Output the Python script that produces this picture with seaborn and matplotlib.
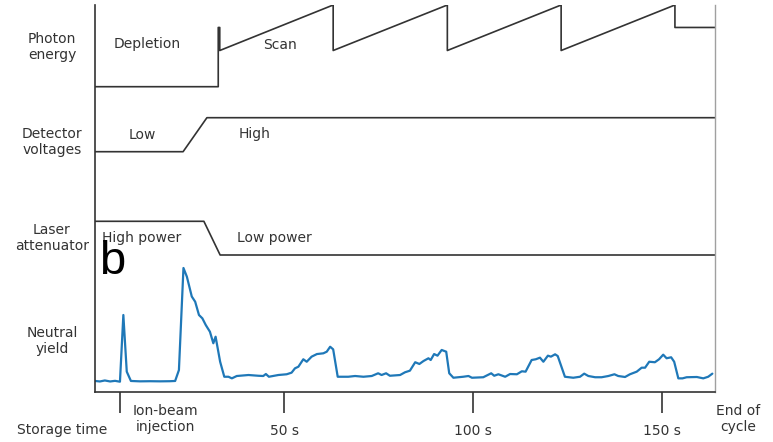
import numpy as np
import pandas as pd
import matplotlib
matplotlib.use("Agg")
import matplotlib.pyplot as plt
import seaborn as sns

# ---- timing of one storage cycle (seconds) ----
injection_t = 6.6
cycle_end_t = 164.0
tick_times = [injection_t, 50, 100, 150]
tick_labels = ["", "50 s", "100 s", "150 s"]

# Photon energy (relative): depletion level, reference spike, four scans, final level
photon_t = [0, 32.6, 32.6, 33.0, 33.0, 63.0, 63.0, 93.2, 93.2, 123.3, 123.3,
            153.4, 153.4, 164.0]
photon_e = [0, 0, 0.725, 0.725, 0.443, 1, 0.443, 1, 0.443, 1, 0.443, 1,
            0.725, 0.725]

# Detector voltages (0 = low, 1 = high)
detector_t = [0, 23.3, 29.6, 164.0]
detector_v = [0, 0, 1, 1]

# Laser attenuator (1 = high power, 0 = low power)
laser_t = [0, 28.8, 33.1, 164.0]
laser_p = [1, 1, 0, 0]

# Neutral yield (arbitrary units)
yield_t = [0.0, 1.3, 2.6, 4.0, 5.3, 6.6, 7.5, 8.4, 9.5, 11.9, 14.6, 17.2, 19.8,
           21.2, 22.2, 23.4, 24.3, 25.6, 26.5, 27.5, 28.4, 29.3, 30.4, 31.3,
           31.9, 33.1, 34.2, 35.3, 36.2, 37.5, 40.6, 43.2, 44.5, 45.2, 46.0,
           48.5, 50.7, 52.0, 52.9, 53.8, 55.1, 56.0, 57.3, 58.7, 60.4, 61.3,
           62.2, 63.0, 64.2, 67.0, 68.8, 71.0, 73.2, 74.9, 75.8, 77.0, 78.0,
           80.7, 82.0, 83.3, 84.7, 85.8, 86.9, 88.2, 88.8, 89.7, 90.6, 91.7,
           92.9, 93.7, 94.8, 97.4, 98.8, 99.7, 102.7, 104.8, 105.6, 106.7,
           108.5, 109.8, 111.6, 112.9, 113.9, 115.5, 116.6, 117.7, 118.6,
           119.8, 120.6, 121.7, 122.4, 124.3, 126.5, 128.3, 129.4, 130.5,
           132.3, 134.0, 135.8, 137.4, 138.4, 140.2, 141.5, 143.3, 144.6,
           145.5, 146.6, 148.1, 149.2, 150.3, 151.2, 152.4, 153.2, 154.3,
           155.4, 156.5, 159.2, 160.9, 162.2, 163.3]
yield_v = [0.089, 0.085, 0.093, 0.085, 0.090, 0.083, 0.621, 0.164, 0.089, 0.086,
           0.087, 0.086, 0.087, 0.089, 0.177, 1.000, 0.930, 0.770, 0.728, 0.621,
           0.594, 0.540, 0.486, 0.393, 0.446, 0.244, 0.123, 0.123, 0.110, 0.129,
           0.137, 0.131, 0.129, 0.145, 0.123, 0.137, 0.143, 0.156, 0.191, 0.204,
           0.264, 0.244, 0.285, 0.306, 0.312, 0.325, 0.365, 0.344, 0.123, 0.123,
           0.129, 0.123, 0.129, 0.151, 0.137, 0.151, 0.131, 0.137, 0.159, 0.172,
           0.240, 0.226, 0.250, 0.272, 0.258, 0.306, 0.293, 0.339, 0.325, 0.151,
           0.115, 0.123, 0.129, 0.115, 0.119, 0.151, 0.131, 0.143, 0.123, 0.145,
           0.143, 0.167, 0.164, 0.258, 0.264, 0.277, 0.244, 0.293, 0.285, 0.304,
           0.290, 0.123, 0.115, 0.123, 0.148, 0.129, 0.119, 0.119, 0.129, 0.143,
           0.129, 0.121, 0.143, 0.164, 0.196, 0.196, 0.244, 0.240, 0.264, 0.301,
           0.272, 0.280, 0.244, 0.110, 0.110, 0.119, 0.121, 0.110, 0.123, 0.148]

row_labels = ["Photon\nenergy", "Detector\nvoltages", "Laser\nattenuator",
              "Neutral\nyield"]

# ---- styling ----
sns.set_style("white")
plt.rcParams["font.family"] = ["DejaVu Sans"]
INK = "#333333"
BLUE = "#1f78b8"
W, H = 773, 442

# vertical placement of each lane (pixel-like units above the time axis)
PE_BASE, PE_SPAN = 305.3, 81.7
DET_BASE, DET_SPAN = 240.3, 34.0
LAS_BASE, LAS_SPAN = 137.0, 33.7
YIELD_SPAN = 124.0

fig = plt.figure(figsize=(W / 100, H / 100), dpi=100)
ax = fig.add_axes([95 / W, 50 / H, 620 / W, 387 / H])

pe = pd.DataFrame({"t": photon_t, "y": PE_BASE + np.array(photon_e) * PE_SPAN})
det = pd.DataFrame({"t": detector_t, "y": DET_BASE + np.array(detector_v) * DET_SPAN})
las = pd.DataFrame({"t": laser_t, "y": LAS_BASE + np.array(laser_p) * LAS_SPAN})
yl = pd.DataFrame({"t": yield_t, "y": np.array(yield_v) * YIELD_SPAN})

for df in (pe, det, las):
    sns.lineplot(data=df, x="t", y="y", ax=ax, estimator=None, sort=False,
                 color=INK, lw=1.2)
sns.lineplot(data=yl, x="t", y="y", ax=ax, estimator=None, sort=False,
             color=BLUE, lw=1.6)

ax.set_xlim(0, cycle_end_t)
ax.set_ylim(0, 387)
ax.set_xlabel("")
ax.set_ylabel("")
ax.set_yticks([])
ax.set_xticks(tick_times)
ax.set_xticklabels(tick_labels, fontsize=10, color=INK)
ax.tick_params(axis="x", direction="out", length=15, width=1.2, color=INK,
               pad=8, bottom=True)

for side in ("left", "bottom"):
    ax.spines[side].set_color(INK)
    ax.spines[side].set_linewidth(1.2)
ax.spines["right"].set_color("#a0a0a0")
ax.spines["right"].set_linewidth(1.0)
ax.spines["top"].set_visible(False)

def ptext(x, y, s, **kw):
    fig.text(x / W, 1 - y / H, s, ha="center", va="center", fontsize=10,
             color=INK, linespacing=1.25, **kw)

# lane names on the left
for s, yy in zip(row_labels, [47, 142, 238, 341]):
    ptext(52, yy, s)
ptext(62, 430, "Storage time")

# in-lane annotations
ptext(147, 44, "Depletion")
ptext(280, 45, "Scan")
ptext(142, 135, "Low")
ptext(255, 134, "High")
ptext(142, 238, "High power")
ptext(274, 238, "Low power")

# time-axis annotations
ptext(165, 419, "Ion-beam\ninjection")
ptext(738, 419, "End of\ncycle")

# panel letter
fig.text(99 / W, 1 - 262 / H, "b", fontsize=34, ha="left", va="center",
         family=["Liberation Sans", "DejaVu Sans"], color="black")

fig.savefig("out.png", dpi=100, facecolor="white")
